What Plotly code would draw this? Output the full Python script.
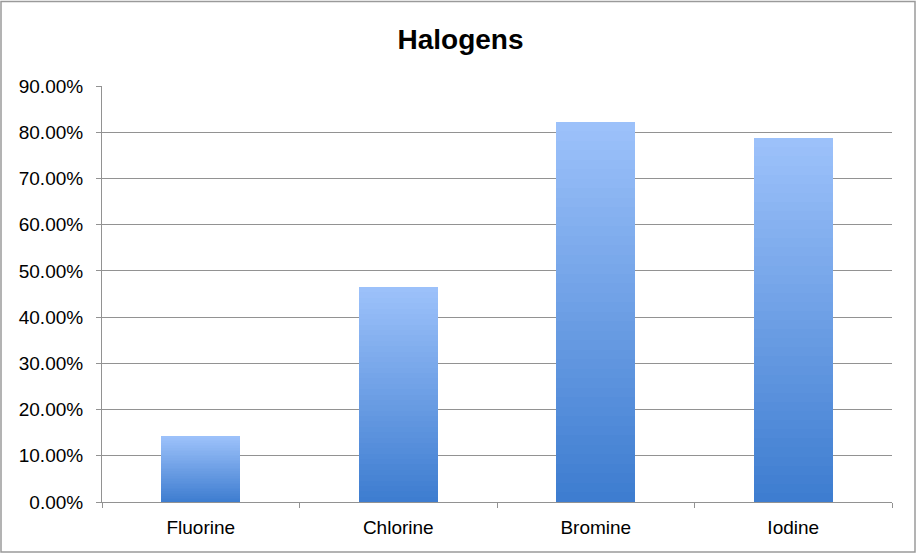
import plotly.graph_objects as go

categories = ["Fluorine", "Chlorine", "Bromine", "Iodine"]
values = [0.143, 0.465, 0.823, 0.787]
title_text = "Halogens"
tick_vals = [i / 10 for i in range(10)]
tick_text = [f"{i * 10:.2f}%" for i in range(10)]

# Vertical gradient per bar, built by stacking equal fractions of each value
N = 40
top_rgb = (156, 193, 250)
bot_rgb = (62, 125, 208)

fig = go.Figure()
for k in range(N):
    t = k / (N - 1)  # 0 at bottom, 1 at top
    c = tuple(round(b + (tp - b) * t) for b, tp in zip(bot_rgb, top_rgb))
    fig.add_trace(go.Bar(
        x=categories,
        y=[v / N for v in values],
        marker=dict(color=f"rgb{c}", line=dict(width=0)),
        showlegend=False,
        hoverinfo="skip",
    ))

L, R, T, B = 102, 29, 86, 52
W, H = 921, 554
pw, ph = W - L - R, H - T - B

fig.update_layout(
    width=W, height=H,
    barmode="stack",
    bargap=0.6,
    plot_bgcolor="white",
    paper_bgcolor="white",
    margin=dict(l=L, r=R, t=T, b=B, pad=0),
    font=dict(family="Liberation Sans, Arial, Helvetica, sans-serif", color="black", size=19),
    title=dict(text=f"<b>{title_text}</b>", x=0.5, xanchor="center", y=1 - 39 / H, yanchor="middle",
               font=dict(size=28, color="black")),
    xaxis=dict(
        type="category",
        showgrid=False,
        showline=True, linecolor="#929292", linewidth=1,
        ticks="outside", tickson="boundaries", ticklen=5, tickcolor="#929292",
        tickfont=dict(size=19),
        ticklabelstandoff=8,
    ),
    yaxis=dict(
        range=[0, 0.9],
        tickvals=tick_vals + [0.9],
        ticktext=tick_text + ["90.00%"],
        showgrid=True, gridcolor="#929292", gridwidth=1,
        showline=True, linecolor="#929292", linewidth=1,
        ticks="outside", ticklen=5, tickcolor="#929292",
        zeroline=False,
        tickfont=dict(size=19),
        ticklabelstandoff=9,
    ),
    shapes=[dict(
        type="rect", xref="paper", yref="paper",
        x0=(1 - L) / pw, x1=(915 - L) / pw,
        y0=-(552 - (H - B)) / ph, y1=(ph + T - 1.5) / ph,
        line=dict(color="#9a9a9a", width=1.5), fillcolor="rgba(0,0,0,0)", layer="below",
    )],
)

fig.write_html(
    "out.html",
    config={"displayModeBar": False},
    post_script="document.body.style.margin='0';document.body.style.overflow='hidden';",
)
